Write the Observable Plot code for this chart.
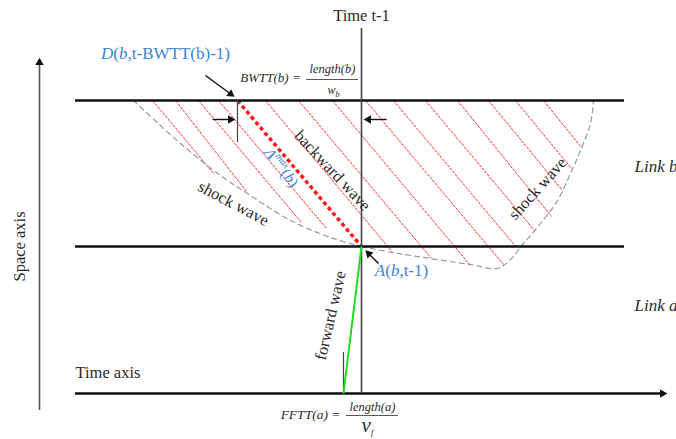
<!DOCTYPE html>
<html><head><meta charset="utf-8">
<script src="https://cdn.jsdelivr.net/npm/d3@7"></script>
<script src="https://cdn.jsdelivr.net/npm/@observablehq/plot@0.6"></script>
<style>body{margin:0;background:#fff;overflow:hidden}</style>
</head><body><div id="chart"></div>
<script>
// Diagram geometry, in diagram units (x to the right = time, y downward on screen)
const linkBoundaries = [
  {name: "upstream end of link b", x1: 75, x2: 624, y: 100},
  {name: "link b / link a node", x1: 75, x2: 624, y: 246}
];
const timeAxisLine = [{x1: 75, x2: 662, y: 393}];
const spaceAxisLine = [{x: 39, y1: 410, y2: 64}];
const timeT1Line = [{x: 361, y1: 28, y2: 393}];
const backwardWave = [{x1: 237, y1: 100, x2: 361, y2: 246}];
const forwardWave = [{x1: 343, y1: 393, x2: 361, y2: 246}];
const smallTicks = [{x: 237, y1: 100, y2: 142}, {x: 343, y1: 352, y2: 393}];
const fractionBars = [{x1: 306, x2: 358, y: 79}, {x1: 346, x2: 398, y: 415}];
const hatchTop = [152, 175, 198, 218, 265, 298, 332, 365, 393, 425, 457, 488, 515, 543];
const hatchEndX = [214, 246, 301, 326, 393, 431, 470, 503, 516, 534, 551, 562, 571, 581];
const hatchEndY = [174, 191, 222, 228, 253, 258, 265, 264, 247, 230, 216, 190, 168, 147];
const shockLeftX = [133, 180, 220, 250, 290, 330, 361];
const shockLeftY = [100, 143, 175, 195, 220, 237, 246];
const shockRightX = [361, 392, 430, 470, 497, 510, 523, 540, 557, 570, 580, 590, 593];
const shockRightY = [246, 252, 258, 264, 268, 259, 243, 223, 200, 173, 150, 123, 100];
const pointerArrows = [
  {x1: 212, y1: 119, x2: 236, y2: 119},
  {x1: 386, y1: 119, x2: 362, y2: 119},
  {x1: 205, y1: 75, x2: 235, y2: 97},
  {x1: 378, y1: 263, x2: 364, y2: 249}
];
const axisArrowTips = [{x: 668, y: 393, dx: 1, dy: 0}, {x: 39, y: 56, dx: 0, dy: -1}];

const centeredLabels = [
  {text: "Time t-1", x: 361, y: 15, rotate: 0},
  {text: "backward wave", x: 332, y: 170, rotate: 47},
  {text: "shock wave", x: 233, y: 203, rotate: 28},
  {text: "shock wave", x: 537, y: 188, rotate: -48},
  {text: "forward wave", x: 330, y: 315, rotate: -77},
  {text: "Space axis", x: 19, y: 246, rotate: -90}
];
const leftLabels = [{text: "Time axis", x: 75, y: 372}];
const linkLabels = [
  {text: "Link b", x: 634, y: 166},
  {text: "Link a", x: 634, y: 305}
];
const blueLabels = [
  {text: "D(b,t-BWTT(b)-1)", x: 165, y: 53, rotate: 0, size: 17},
  {text: "A(b,t-1)", x: 401, y: 270, rotate: 0, size: 17},
  {text: "Λmax(b)", x: 281, y: 167, rotate: 52, size: 16}
];
const formulaLabels = [
  {text: "BWTT(b) =", x: 270, y: 77, size: 13},
  {text: "length(b)", x: 332, y: 68, size: 12.5},
  {text: "wb", x: 333, y: 90, size: 12},
  {text: "FFTT(a) =", x: 310, y: 414, size: 13.5},
  {text: "length(a)", x: 372, y: 406, size: 12.5},
  {text: "vf", x: 367, y: 425, size: 21}
];

const hatch = hatchTop.map((x, i) => ({x1: x, y1: 100, x2: hatchEndX[i], y2: hatchEndY[i]}));
const shockLeft = shockLeftX.map((x, i) => ({x, y: shockLeftY[i]}));
const shockRight = shockRightX.map((x, i) => ({x, y: shockRightY[i]}));
const HEAD = 6;
const shafts = pointerArrows.map(a => {
  const L = Math.hypot(a.x2 - a.x1, a.y2 - a.y1), ux = (a.x2 - a.x1) / L, uy = (a.y2 - a.y1) / L;
  return {x1: a.x1, y1: a.y1, x2: a.x2 - ux * HEAD, y2: a.y2 - uy * HEAD};
});
const heads = pointerArrows.map(a => {
  const L = Math.hypot(a.x2 - a.x1, a.y2 - a.y1), ux = (a.x2 - a.x1) / L, uy = (a.y2 - a.y1) / L;
  return {x: a.x2 - ux * HEAD, y: a.y2 - uy * HEAD, rotate: Math.atan2(uy, ux) * 180 / Math.PI + 90};
}).concat(axisArrowTips.map(a => ({x: a.x - a.dx * HEAD, y: a.y - a.dy * HEAD, rotate: Math.atan2(a.dy, a.dx) * 180 / Math.PI + 90})));

const W = 676, H = 439;
const SERIF = "Liberation Serif, Times New Roman, serif";
const INK = "#2b2b2b", BLUE = "#3b84d4";

const chart = Plot.plot({
  width: W, height: H, margin: 0,
  x: {domain: [0, W], range: [0, W], axis: null},
  y: {domain: [0, H], range: [0, H], axis: null},
  style: {background: "#fff", overflow: "visible"},
  marks: [
    Plot.link(hatch, {x1: "x1", y1: "y1", x2: "x2", y2: "y2", stroke: "#ff3030", strokeWidth: 1, strokeDasharray: "3,1"}),
    Plot.line(shockLeft, {x: "x", y: "y", curve: "catmull-rom", stroke: "#9a9a9a", strokeWidth: 1.2, strokeDasharray: "5,4"}),
    Plot.line(shockRight, {x: "x", y: "y", curve: "catmull-rom", stroke: "#9a9a9a", strokeWidth: 1.2, strokeDasharray: "5,4"}),
    Plot.link(backwardWave, {x1: "x1", y1: "y1", x2: "x2", y2: "y2", stroke: "#ff1a1a", strokeWidth: 3.5, strokeDasharray: "4,3"}),
    Plot.ruleY(linkBoundaries, {y: "y", x1: "x1", x2: "x2", stroke: "#111", strokeWidth: 2.6}),
    Plot.ruleY(timeAxisLine, {y: "y", x1: "x1", x2: "x2", stroke: "#111", strokeWidth: 2.4}),
    Plot.ruleX(spaceAxisLine, {x: "x", y1: "y1", y2: "y2", stroke: "#555", strokeWidth: 1.6}),
    Plot.ruleX(timeT1Line, {x: "x", y1: "y1", y2: "y2", stroke: "#444", strokeWidth: 1.6}),
    Plot.ruleX(smallTicks, {x: "x", y1: "y1", y2: "y2", stroke: "#444", strokeWidth: 1.2}),
    Plot.ruleY(fractionBars, {y: "y", x1: "x1", x2: "x2", stroke: "#444", strokeWidth: 0.9}),
    Plot.link(forwardWave, {x1: "x1", y1: "y1", x2: "x2", y2: "y2", stroke: "#22dd22", strokeWidth: 2}),
    Plot.link(shafts, {x1: "x1", y1: "y1", x2: "x2", y2: "y2", stroke: "#111", strokeWidth: 1.4}),
    Plot.dot(heads, {x: "x", y: "y", rotate: "rotate", symbol: "triangle2", r: 4, fill: "#111"}),
    Plot.text(centeredLabels, {x: "x", y: "y", text: "text", rotate: "rotate", fontSize: 16.5, fontFamily: SERIF, fill: INK}),
    Plot.text(leftLabels, {x: "x", y: "y", text: "text", textAnchor: "start", fontSize: 16.5, fontFamily: SERIF, fill: INK}),
    Plot.text(linkLabels, {x: "x", y: "y", text: "text", textAnchor: "start", fontSize: 17, fontStyle: "italic", fontFamily: SERIF, fill: INK}),
    Plot.text(blueLabels, {x: "x", y: "y", text: "text", rotate: "rotate", fontSize: d => d.size, fontFamily: SERIF, fill: BLUE}),
    Plot.text(formulaLabels, {x: "x", y: "y", text: "text", fontSize: d => d.size, fontStyle: "italic", fontFamily: SERIF, fill: INK})
  ]
});

const rich = {
  "D(b,t-BWTT(b)-1)": '<tspan font-style="italic">D</tspan>(<tspan font-style="italic">b</tspan>,t-BWTT(b)-1)',
  "A(b,t-1)": '<tspan font-style="italic">A</tspan>(<tspan font-style="italic">b</tspan>,t-1)',
  "Λmax(b)": '<tspan font-style="italic">Λ</tspan><tspan font-size="10" dy="-7" font-style="italic">max</tspan><tspan dy="7">(</tspan><tspan font-style="italic">b</tspan>)',
  "wb": 'w<tspan font-size="8" dy="3">b</tspan>',
  "vf": 'v<tspan font-size="9" dy="3">f</tspan>'
};
d3.select(chart).selectAll("text").each(function() {
  const t = this.textContent;
  if (rich[t]) this.innerHTML = rich[t];
});
document.getElementById("chart").appendChild(chart);
</script>
</body></html>
